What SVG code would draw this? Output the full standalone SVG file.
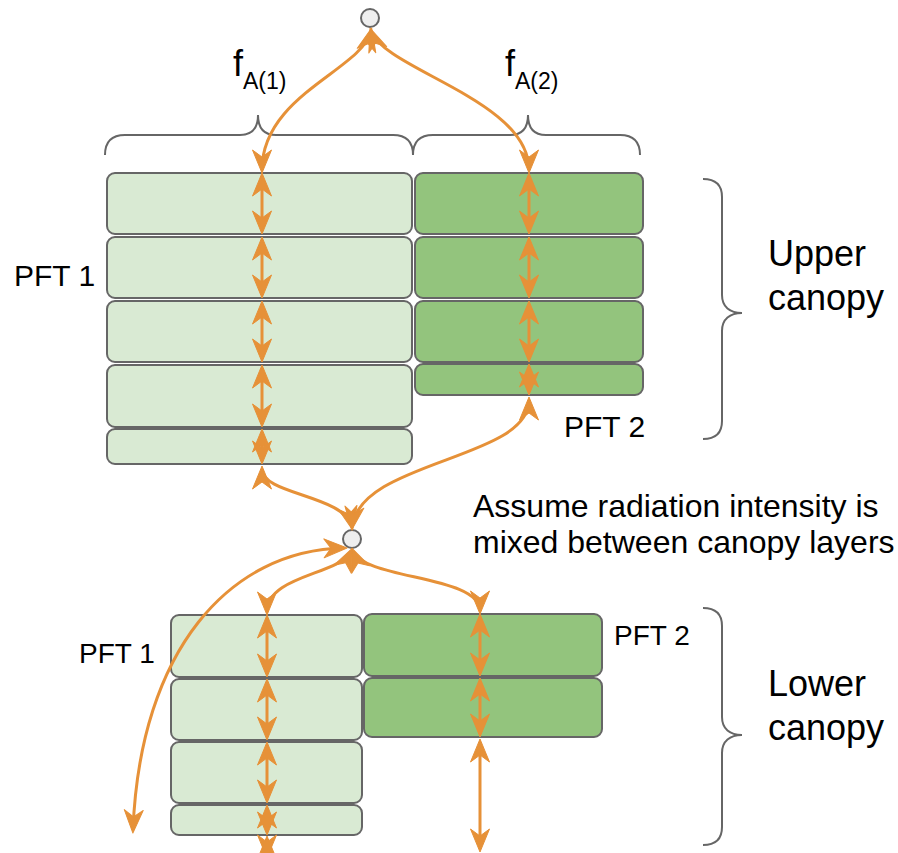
<svg xmlns="http://www.w3.org/2000/svg" width="898" height="853" viewBox="0 0 898 853">
  <style>
    .lt { fill: #d9ead3; stroke: #666666; stroke-width: 2; }
    .dk { fill: #93c47d; stroke: #666666; stroke-width: 2; }
    .pt { fill: #eeeeee; stroke: #666666; stroke-width: 2; }
    .br { fill: none; stroke: #666666; stroke-width: 2; }
    .fl { fill: none; stroke: #e69138; stroke-width: 3; marker-start: url(#ah); marker-end: url(#ah); }
    text { font-family: "Liberation Sans", Arial, sans-serif; fill: #000000; }
  </style>
  <defs>
    <!-- classic notched arrowhead, tip sits 3px ahead of the path end -->
    <marker id="ah" markerUnits="userSpaceOnUse" viewBox="-26 -13 32 26" markerWidth="32" markerHeight="26" refX="0" refY="0" orient="auto-start-reverse">
      <path d="M3,0 L-20,-9.5 L-13,0 L-20,9.5 Z" fill="#e69138" stroke="#e69138" stroke-width="1" stroke-linejoin="round"/>
    </marker>
  </defs>

  <!-- mixing points -->
  <g id="top-point"><circle class="pt" cx="370" cy="18" r="9"/></g>
  <g id="mid-point"><circle class="pt" cx="352" cy="539" r="9"/></g>

  <!-- upper canopy, PFT 1 layers -->
  <g id="upper-pft1">
    <rect class="lt" x="107" y="173" width="305" height="61" rx="8"/>
    <rect class="lt" x="107" y="237" width="305" height="61" rx="8"/>
    <rect class="lt" x="107" y="301" width="305" height="61" rx="8"/>
    <rect class="lt" x="107" y="365" width="305" height="62" rx="8"/>
    <rect class="lt" x="107" y="429" width="305" height="35" rx="8"/>
  </g>
  <!-- upper canopy, PFT 2 layers -->
  <g id="upper-pft2">
    <rect class="dk" x="415" y="173" width="228" height="61" rx="8"/>
    <rect class="dk" x="415" y="237" width="228" height="61" rx="8"/>
    <rect class="dk" x="415" y="301" width="228" height="61" rx="8"/>
    <rect class="dk" x="415" y="364" width="228" height="31" rx="8"/>
  </g>
  <!-- lower canopy, PFT 1 layers -->
  <g id="lower-pft1">
    <rect class="lt" x="171" y="615" width="191" height="62" rx="8"/>
    <rect class="lt" x="171" y="679" width="191" height="61" rx="8"/>
    <rect class="lt" x="171" y="742" width="191" height="61" rx="8"/>
    <rect class="lt" x="171" y="805" width="191" height="30" rx="8"/>
  </g>
  <!-- lower canopy, PFT 2 layers -->
  <g id="lower-pft2">
    <rect class="dk" x="364" y="614" width="238" height="62" rx="8"/>
    <rect class="dk" x="364" y="678" width="238" height="59" rx="8"/>
  </g>

  <!-- braces -->
  <g id="brace-fa1">
    <path class="br" d="M105,155 C105,142 112,135 125,135 L240,135 C252,135 258,128 258,115 C258,128 264,135 276,135 L393,135 C406,135 413,142 413,155"/>
  </g>
  <g id="brace-fa2">
    <path class="br" d="M413,155 C413,142 420,135 433,135 L510,135 C522,135 528,128 528,115 C528,128 534,135 546,135 L620,135 C633,135 640,142 640,155"/>
  </g>
  <g id="brace-upper">
    <path class="br" d="M703,179 C716,179 722,185 722,197 L722,295 C722,307 730,313 742,313 C730,313 722,319 722,331 L722,421 C722,433 716,439 703,439"/>
  </g>
  <g id="brace-lower">
    <path class="br" d="M703,608 C716,608 722,614 722,626 L722,717 C722,729 730,735 742,735 C730,735 722,741 722,753 L722,827 C722,839 716,845 703,845"/>
  </g>

  <!-- labels -->
  <g id="label-fa1"><text x="233" y="76" font-size="36">f<tspan font-size="23" dy="13">A(1)</tspan></text></g>
  <g id="label-fa2"><text x="505" y="76" font-size="36">f<tspan font-size="23" dy="13">A(2)</tspan></text></g>
  <g id="label-upper-pft1"><text x="14" y="286" font-size="30">PFT 1</text></g>
  <g id="label-upper-pft2"><text x="564" y="437" font-size="30">PFT 2</text></g>
  <g id="label-lower-pft1"><text x="79" y="663" font-size="28">PFT 1</text></g>
  <g id="label-lower-pft2"><text x="614" y="645" font-size="28">PFT 2</text></g>
  <g id="label-upper"><text font-size="36"><tspan x="768" y="266">Upper</tspan><tspan x="768" y="310">canopy</tspan></text></g>
  <g id="label-lower"><text font-size="36"><tspan x="768" y="696">Lower</tspan><tspan x="768" y="740">canopy</tspan></text></g>
  <g id="label-mixing"><text font-size="32"><tspan x="473" y="517">Assume radiation intensity is</tspan><tspan x="473" y="553">mixed between canopy layers</tspan></text></g>

  <!-- radiation flows -->
  <g id="connectors">
    <path class="fl" d="M262,170 C262,95 362,70 371,31"/>
    <path class="fl" d="M529,170 C529,100 385,70 371,31"/>

    <path class="fl" d="M262,176 L262,231"/>
    <path class="fl" d="M262,240 L262,295"/>
    <path class="fl" d="M262,304 L262,359"/>
    <path class="fl" d="M262,368 L262,424"/>
    <path class="fl" d="M262,432 L262,461"/>

    <path class="fl" d="M529,176 L529,231"/>
    <path class="fl" d="M529,240 L529,295"/>
    <path class="fl" d="M529,304 L529,359"/>
    <path class="fl" d="M529,367 L529,392"/>

    <path class="fl" d="M262,469 C262,495 345,495 352,527"/>
    <path class="fl" d="M529,400 C529,460 360,460 352,527"/>

    <path class="fl" d="M353,551 C365,580 480,575 480,611"/>
    <path class="fl" d="M351,551 C340,575 267,575 267,612"/>
    <path class="fl" d="M344,548 C230,550 140,650 133,830"/>

    <path class="fl" d="M267,618 L267,674"/>
    <path class="fl" d="M267,682 L267,737"/>
    <path class="fl" d="M267,745 L267,800"/>
    <path class="fl" d="M267,808 L267,832"/>
    <path class="fl" d="M267,839 L267,855"/>

    <path class="fl" d="M480,617 L480,673"/>
    <path class="fl" d="M480,681 L480,734"/>
    <path class="fl" d="M480,742 L480,849"/>
  </g>
</svg>
